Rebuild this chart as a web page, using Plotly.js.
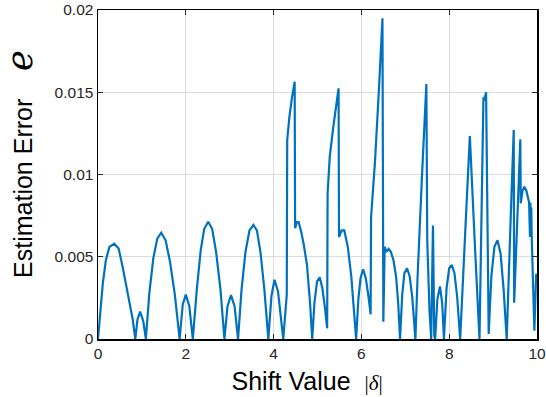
<!DOCTYPE html>
<html>
<head>
<meta charset="utf-8">
<script src="https://cdn.plot.ly/plotly-3.0.1.min.js"></script>
<style>html,body{margin:0;padding:0;background:#fff;}</style>
</head>
<body>
<div id="chart" style="width:546px;height:397px;"></div>
<script>
// Shift value |delta| (x) and estimation error e (y)
var shiftValues = [
  0, 0.05, 0.11, 0.18, 0.26, 0.37, 0.47, 0.56, 0.68, 0.79, 0.85,
  0.90, 0.96, 1.03, 1.09,
  1.17, 1.26, 1.35, 1.44, 1.54, 1.64, 1.75, 1.86,
  1.93, 2.00, 2.08, 2.16,
  2.25, 2.34, 2.42, 2.51, 2.60, 2.69, 2.79, 2.88,
  2.95, 3.03, 3.11, 3.19,
  3.27, 3.36, 3.45, 3.54, 3.62, 3.70, 3.79, 3.88,
  3.95, 4.02, 4.10, 4.22,
  4.30, 4.31, 4.36, 4.42, 4.48, 4.49, 4.53, 4.57, 4.63, 4.69, 4.76, 4.83, 4.88,
  4.93, 4.99, 5.05, 5.11, 5.17, 5.22,
  5.23, 5.28, 5.36, 5.48, 5.49, 5.55, 5.61, 5.69, 5.77, 5.83, 5.88,
  5.93, 5.98, 6.04, 6.10, 6.16, 6.21,
  6.22, 6.31, 6.40, 6.48, 6.50, 6.53, 6.57, 6.62, 6.67, 6.73, 6.79, 6.84, 6.88,
  6.93, 6.98, 7.04, 7.10, 7.16, 7.23,
  7.28, 7.38, 7.46, 7.48, 7.50, 7.55, 7.59,
  7.63, 7.66, 7.68,
  7.73, 7.79, 7.84, 7.88,
  7.94, 8.00, 8.06, 8.12, 8.18, 8.25,
  8.36, 8.47, 8.58, 8.69,
  8.78, 8.80, 8.84, 8.90,
  8.96, 9.03, 9.10, 9.17, 9.24, 9.31,
  9.39, 9.47, 9.48, 9.55, 9.62, 9.63, 9.67, 9.71, 9.76, 9.82,
  9.84, 9.85, 9.86, 9.87, 9.88, 9.94, 9.98, 10.0
];
var estimationError = [
  0, 0.0017, 0.0034, 0.0048, 0.0056, 0.0058, 0.0055, 0.0044, 0.0028, 0.0012, 0,
  0.0012, 0.00166, 0.0011, 0,
  0.0028, 0.0049, 0.0061, 0.00646, 0.0060, 0.0047, 0.0027, 0,
  0.0021, 0.0027, 0.0020, 0,
  0.0030, 0.0054, 0.0067, 0.00713, 0.0067, 0.0053, 0.0030, 0,
  0.0020, 0.00267, 0.0020, 0,
  0.0030, 0.0053, 0.0066, 0.00693, 0.0066, 0.0053, 0.0030, 0,
  0.0026, 0.0036, 0.0029, 0,
  0.0027, 0.0121, 0.0135, 0.0147, 0.01564, 0.00673, 0.0071, 0.0071, 0.0065, 0.0057, 0.0045, 0.0022, 0,
  0.0022, 0.0035, 0.00375, 0.0031, 0.0019, 0.00065,
  0.00886, 0.0111, 0.0129, 0.01524, 0.0062, 0.0066, 0.0066, 0.0056, 0.0038, 0.0020, 0,
  0.0024, 0.0037, 0.00424, 0.0037, 0.0026, 0.0015,
  0.0074, 0.0108, 0.0152, 0.0195, 0.00105, 0.0056, 0.0053, 0.00548, 0.0053, 0.0048, 0.0038, 0.0021, 0,
  0.0027, 0.0040, 0.0043, 0.0038, 0.0025, 0,
  0.0038, 0.0099, 0.0141, 0.0155, 0.0060, 0.0018, 0,
  0.0069, 0.0002, 0,
  0.0024, 0.0032, 0.0022, 0,
  0.0031, 0.0043, 0.0045, 0.0040, 0.0026, 0,
  0.0062, 0.01234, 0.0060, 0,
  0.0147, 0.0145, 0.0150, 0.0003,
  0.0038, 0.0056, 0.0060, 0.0052, 0.0030, 0,
  0.0065, 0.0127, 0.0022, 0.0072, 0.01214, 0.00825, 0.0090, 0.00926, 0.0090, 0.0083,
  0.0062, 0.0083, 0.0062, 0.0080, 0.0062, 0.0005, 0.0039, 0.0039
];
var xTickVals = [0, 2, 4, 6, 8, 10];
var xTickText = ['0', '2', '4', '6', '8', '10'];
var yTickVals = [0, 0.005, 0.01, 0.015, 0.02];
var yTickText = ['0', '0.005', '0.01', '0.015', '0.02'];

var trace = {
  x: shiftValues,
  y: estimationError,
  type: 'scatter',
  mode: 'lines',
  line: {color: '#0072BD', width: 2.2},
  hoverinfo: 'x+y'
};

var axisCommon = {
  showline: true, linecolor: '#000000', linewidth: 1.5, mirror: 'ticks',
  ticks: 'inside', ticklen: 5, tickwidth: 1.2, tickcolor: '#262626',
  showgrid: true, gridcolor: '#dcdcdc', gridwidth: 1,
  zeroline: false, tickmode: 'array',
  tickfont: {family: 'Liberation Sans, Arial, sans-serif', size: 15.5, color: '#262626'}
};

var layout = {
  width: 546, height: 397,
  margin: {l: 98, r: 9, t: 10, b: 58},
  paper_bgcolor: '#ffffff', plot_bgcolor: '#ffffff',
  showlegend: false,
  font: {family: 'Liberation Sans, Arial, sans-serif', color: '#000000'},
  xaxis: Object.assign({}, axisCommon, {
    range: [0, 10], tickvals: xTickVals, ticktext: xTickText,
    title: {
      text: 'Shift Value&nbsp; <span style="font-family:Liberation Serif;font-size:21px">|<i>δ</i>|</span>&nbsp;&nbsp;&nbsp;',
      font: {family: 'Liberation Sans, Arial, sans-serif', size: 25, color: '#000000'},
      standoff: 11
    }
  }),
  yaxis: Object.assign({}, axisCommon, {
    range: [0, 0.02], tickvals: yTickVals, ticktext: yTickText,
    title: {
      text: '&nbsp;&nbsp;&nbsp;Estimation Error&nbsp;&nbsp;&nbsp; <span style="font-family:DejaVu Serif;font-size:35px"><i>e</i></span>',
      font: {family: 'Liberation Sans, Arial, sans-serif', size: 25, color: '#000000'},
      standoff: 20
    }
  })
};

Plotly.newPlot('chart', [trace], layout, {displayModeBar: false, staticPlot: true});
</script>
</body>
</html>
